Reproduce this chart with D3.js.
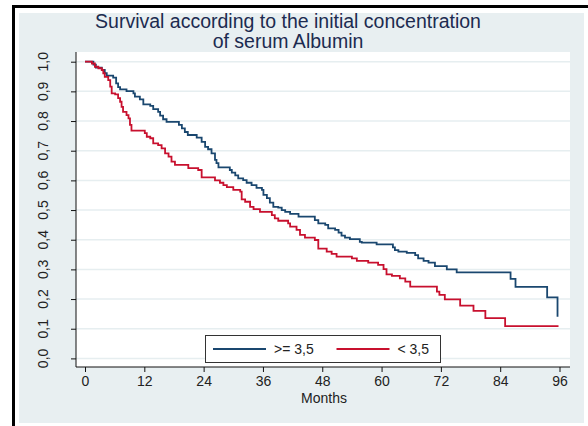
<!DOCTYPE html>
<html>
<head>
<meta charset="utf-8">
<script src="https://cdn.jsdelivr.net/npm/d3@7"></script>
<style>
  body { margin: 0; background: #fff; }
  svg { display: block; font-family: "Liberation Sans", Arial, sans-serif; }
</style>
</head>
<body>
<div id="chart"></div>
<script>
// Kaplan-Meier survival by initial serum albumin

const titleLines = ["Survival according to the initial concentration", "of serum Albumin"];
const xLabel = "Months";
const xTicks = [0, 12, 24, 36, 48, 60, 72, 84, 96];
const yTicks = [0, 0.1, 0.2, 0.3, 0.4, 0.5, 0.6, 0.7, 0.8, 0.9, 1.0];
const groups = [">= 3,5", "< 3,5"];

// >= 3,5 (step times in months, survival after the step)
const highTime = [0, 1.7, 2.2, 3.4, 4.0, 4.4, 5.7, 6.3, 6.7, 7.1, 8.4, 9.8, 10.1, 11.1, 11.8, 13.2, 13.8, 14.8, 15.2, 15.8,
  16.5, 19.0, 19.6, 20.2, 20.8, 22.6, 23.6, 24.3, 24.9, 25.6, 26.3, 26.6, 27.0, 29.3, 29.7, 30.4, 31.0, 32.0, 32.7, 33.7,
  34.7, 35.8, 36.1, 36.8, 37.4, 38.1, 39.1, 39.8, 40.5, 41.5, 43.2, 46.5, 47.2, 48.6, 49.2, 50.6, 51.3, 51.9, 52.6, 53.6,
  55.6, 56.0, 59.0, 62.3, 62.7, 63.4, 65.1, 66.8, 67.4, 68.5, 69.5, 70.8, 73.2, 75.2, 86.1, 87.1, 93.5, 95.6];
const highSurv = [1.0, 0.99, 0.98, 0.972, 0.961, 0.953, 0.946, 0.927, 0.914, 0.907, 0.901, 0.893, 0.882, 0.873, 0.856, 0.851, 0.840, 0.831, 0.818, 0.806,
  0.797, 0.787, 0.775, 0.763, 0.753, 0.744, 0.730, 0.713, 0.705, 0.691, 0.669, 0.658, 0.644, 0.635, 0.626, 0.617, 0.607, 0.601, 0.592, 0.584,
  0.575, 0.568, 0.551, 0.540, 0.525, 0.511, 0.508, 0.500, 0.494, 0.487, 0.478, 0.466, 0.455, 0.450, 0.438, 0.433, 0.424, 0.414, 0.407, 0.402,
  0.393, 0.390, 0.384, 0.374, 0.365, 0.360, 0.356, 0.348, 0.337, 0.329, 0.323, 0.311, 0.300, 0.290, 0.268, 0.241, 0.206, 0.14];

// < 3,5
const lowTime = [0, 1.4, 2.0, 2.7, 3.4, 3.7, 4.0, 4.7, 5.1, 5.4, 6.1, 6.7, 7.1, 7.4, 7.7, 8.4, 8.8, 9.1, 9.4, 12.1,
  12.5, 13.2, 13.8, 14.8, 15.5, 16.2, 16.9, 17.5, 18.2, 20.9, 22.9, 23.6, 26.3, 27.3, 28.0, 28.7, 30.0, 31.4, 31.7, 32.4,
  33.4, 34.1, 35.4, 37.8, 38.4, 39.1, 41.1, 41.5, 42.8, 43.5, 44.5, 46.5, 47.2, 48.9, 49.9, 50.9, 54.0, 55.0, 57.3, 59.3,
  60.4, 61.0, 62.1, 63.7, 64.8, 65.8, 71.2, 71.7, 72.8, 75.9, 78.6, 81.0, 85.0, 95.8];
const lowSurv = [1.0, 0.994, 0.983, 0.978, 0.972, 0.961, 0.949, 0.938, 0.916, 0.893, 0.890, 0.877, 0.865, 0.848, 0.831, 0.820, 0.809, 0.787, 0.768, 0.759,
  0.747, 0.742, 0.725, 0.719, 0.708, 0.691, 0.680, 0.663, 0.652, 0.641, 0.635, 0.610, 0.600, 0.592, 0.584, 0.577, 0.568, 0.562, 0.536, 0.528,
  0.511, 0.503, 0.494, 0.483, 0.472, 0.464, 0.455, 0.444, 0.433, 0.416, 0.407, 0.399, 0.370, 0.360, 0.352, 0.343, 0.337, 0.329, 0.323, 0.315,
  0.301, 0.283, 0.278, 0.270, 0.259, 0.242, 0.225, 0.214, 0.199, 0.178, 0.160, 0.136, 0.109, 0.109];

const colors = ["#1a476f", "#c8102e"];

const W = 588, H = 426;
const svg = d3.select("#chart").append("svg")
  .attr("width", W)
  .attr("height", H);

// graph region
svg.append("rect").attr("x", 19).attr("y", 13).attr("width", 565).attr("height", 410).attr("fill", "#e8eff1");
svg.append("line").attr("x1", 12).attr("x2", W).attr("y1", 6.5).attr("y2", 6.5)
  .attr("stroke", "#000").attr("stroke-width", 3);
svg.append("line").attr("x1", 13.5).attr("x2", 13.5).attr("y1", 5).attr("y2", H)
  .attr("stroke", "#000").attr("stroke-width", 3);

// plot region
const plot = { left: 76, right: 570, top: 52, bottom: 367 };
svg.append("rect").attr("x", plot.left).attr("y", plot.top)
  .attr("width", plot.right - plot.left).attr("height", plot.bottom - plot.top).attr("fill", "#fff");

const x = d3.scaleLinear().domain([0, 96]).range([85, 559.5]);
const y = d3.scaleLinear().domain([0, 1]).range([358.4, 61.7]);

// gridlines
svg.append("g").selectAll("line").data(yTicks).join("line")
  .attr("x1", plot.left).attr("x2", plot.right)
  .attr("y1", d => y(d)).attr("y2", d => y(d))
  .attr("stroke", "#e6eef0").attr("stroke-width", 1.5);

// y axis
const yAxis = svg.append("g")
  .attr("transform", `translate(${plot.left},0)`)
  .call(d3.axisLeft(y).tickValues(yTicks).tickSize(5).tickPadding(0).tickFormat(() => ""));
yAxis.select(".domain").attr("d", `M0,${plot.top}V${plot.bottom}`).attr("stroke", "#111");
yAxis.selectAll(".tick line").attr("stroke", "#111");
svg.append("g").selectAll("text").data(yTicks).join("text")
  .attr("transform", d => `translate(48,${y(d)}) rotate(-90)`)
  .attr("text-anchor", "middle")
  .attr("font-size", 14)
  .attr("fill", "#222")
  .text(d => d3.format(".1f")(d).replace(".", ","));

// x axis
const xAxis = svg.append("g")
  .attr("transform", `translate(0,${plot.bottom})`)
  .call(d3.axisBottom(x).tickValues(xTicks).tickSize(5).tickPadding(4));
xAxis.select(".domain").attr("d", `M${plot.left},0H${plot.right}`).attr("stroke", "#111");
xAxis.selectAll(".tick line").attr("stroke", "#111");
xAxis.selectAll(".tick text")
  .attr("font-size", 14).attr("fill", "#222")
  .attr("font-family", "Liberation Sans, Arial, sans-serif");

svg.append("text")
  .attr("x", 324).attr("y", 402.5)
  .attr("text-anchor", "middle")
  .attr("font-size", 14).attr("fill", "#222")
  .text(xLabel);

// survival curves
const line = d3.line()
  .x(d => x(d[0]))
  .y(d => y(d[1]))
  .curve(d3.curveStepAfter);

const series = [
  d3.zip(highTime, highSurv),
  d3.zip(lowTime, lowSurv)
];

svg.append("g").selectAll("path").data(series).join("path")
  .attr("d", line)
  .attr("fill", "none")
  .attr("stroke", (d, i) => colors[i])
  .attr("stroke-width", 1.8);

// title
svg.append("g").selectAll("text").data(titleLines).join("text")
  .attr("x", 288)
  .attr("y", (d, i) => 27.5 + i * 20.8)
  .attr("text-anchor", "middle")
  .attr("font-size", 19.5)
  .attr("fill", "#1c2b50")
  .text(d => d);

// legend
const legend = svg.append("g");
legend.append("rect")
  .attr("x", 205.5).attr("y", 335.5).attr("width", 235).attr("height", 27)
  .attr("fill", "#fff").attr("stroke", "#333").attr("stroke-width", 1);
const legendX = [213, 336.5];
groups.forEach((g, i) => {
  legend.append("line")
    .attr("x1", legendX[i]).attr("x2", legendX[i] + 53)
    .attr("y1", 349).attr("y2", 349)
    .attr("stroke", colors[i]).attr("stroke-width", 1.8);
  legend.append("text")
    .attr("x", legendX[i] + 61).attr("y", 354)
    .attr("font-size", 14).attr("fill", "#222")
    .text(g);
});
</script>
</body>
</html>
